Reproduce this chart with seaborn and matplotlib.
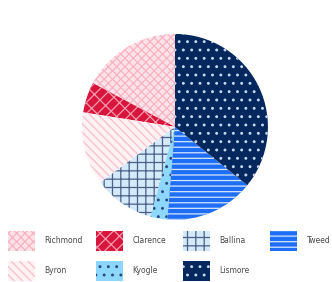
import matplotlib
matplotlib.use("Agg")
import matplotlib.pyplot as plt
from matplotlib.patches import Patch
import seaborn as sns

# Slices, counter-clockwise from 12 o'clock
regions = ["Richmond", "Clarence", "Byron", "Ballina", "Kyogle", "Tweed", "Lismore"]
shares = [17.2, 5.3, 12.7, 10.6, 2.9, 15.5, 35.8]

# Legend order (row-major, 4 columns)
legend_order = ["Richmond", "Clarence", "Ballina", "Tweed", "Byron", "Kyogle", "Lismore"]

styles = {
    "Richmond": ("#fde3e9", "#f7b3c2", "xxxx"),
    "Clarence": ("#d7153d", "#f29aab", "x/x"),
    "Byron": ("#fff1f4", "#f8c0cc", "\\\\\\\\"),
    "Ballina": ("#d2eafb", "#4e6088", "++"),
    "Kyogle": ("#8cd7fb", "#2a4a7a", ".."),
    "Tweed": ("#1f6ff6", "#d6e6fd", "---"),
    "Lismore": ("#04285e", "#c4d6ef", ".."),
}

sns.set_theme(style="white")
plt.rcParams["font.family"] = ["DejaVu Sans"]
plt.rcParams["hatch.linewidth"] = 0.9

fig = plt.figure(figsize=(3.32, 2.82), dpi=100)
ax = fig.add_axes([0.247, 0.22, 0.56, 0.66])

wedges, _ = ax.pie(shares, startangle=90, counterclock=True,
                   colors=[styles[r][0] for r in regions],
                   wedgeprops=dict(linewidth=0))
for w, r in zip(wedges, regions):
    face, hcol, hatch = styles[r]
    w.set_edgecolor(hcol)
    w.set_linewidth(0)
    w.set_hatch(hatch)
ax.set_xlim(-1, 1)
ax.set_ylim(-1, 1)
ax.set_aspect("equal")
ax.axis("off")

# ── Legend: 4 fixed-width columns ────────────────────────────────────────
col_x = [8, 96, 183, 270]
for i, x in enumerate(col_x):
    names = [legend_order[j] for j in (i, i + 4) if j < len(legend_order)]
    handles = [Patch(facecolor=styles[n][0], edgecolor=styles[n][1],
                     hatch=styles[n][2], linewidth=0, label=n) for n in names]
    leg = fig.legend(handles=handles, loc="upper left",
                     bbox_to_anchor=(x / 332, 1 - 231 / 282),
                     frameon=False, fontsize=5.5, borderpad=0, borderaxespad=0,
                     handlelength=3.5, handleheight=3.67, handletextpad=1.3,
                     labelspacing=1.3)
    for t in leg.get_texts():
        t.set_color("#4a4a4a")

fig.savefig("out.png", dpi=100)
